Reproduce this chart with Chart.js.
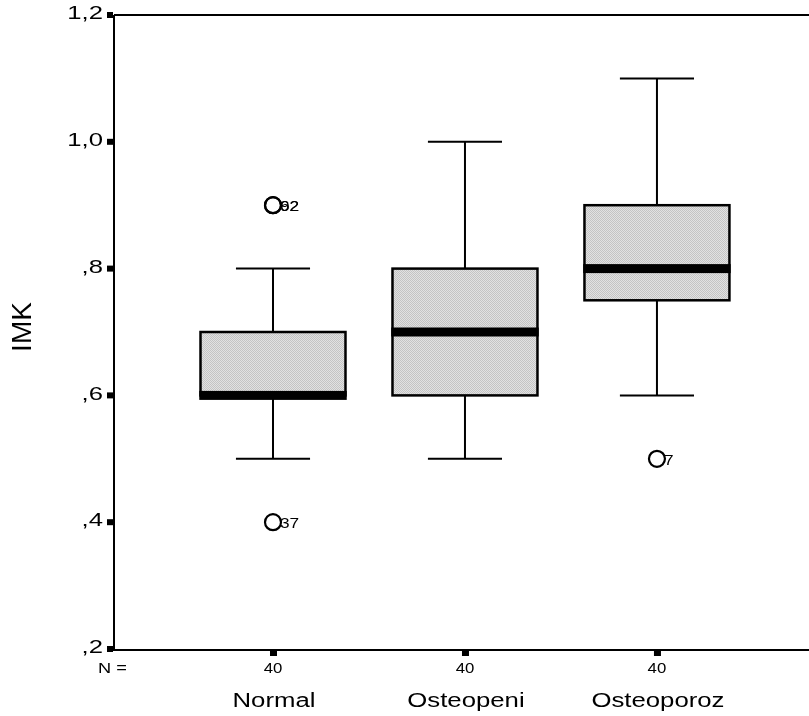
<!DOCTYPE html>
<html>
<head>
<meta charset="utf-8">
<script src="https://cdn.jsdelivr.net/npm/chart.js@4/dist/chart.umd.min.js"></script>
<style>
html,body{margin:0;padding:0;background:#fff;}
#wrap{width:809px;height:716px;}
</style>
</head>
<body>
<div id="wrap"><canvas id="c" width="809" height="716"></canvas></div>
<script>
// ---- data ----
const categories = ['Normal', 'Osteopeni', 'Osteoporoz'];
const groupCounts = [40, 40, 40];
const whiskerLow = [0.5, 0.5, 0.6];
const q1 = [0.6, 0.6, 0.75];
const median = [0.6, 0.7, 0.8];
const q3 = [0.7, 0.8, 0.9];
const whiskerHigh = [0.8, 1.0, 1.1];
const outlierGroup = [0, 0, 0, 2];
const outlierValue = [0.9, 0.9, 0.4, 0.5];
const outlierCase = ['62', '92', '37', '7'];
const yTickValues = [0.2, 0.4, 0.6, 0.8, 1.0, 1.2];
const yTickLabels = [',2', ',4', ',6', ',8', '1,0', '1,2'];
const yTitle = 'IMK';

// ---- helpers ----
const FONT = 'Arial, "Liberation Sans", sans-serif';
function sText(ctx, text, x, y, size, sx, align, baseline) {
  ctx.save();
  ctx.font = size + 'px ' + FONT;
  ctx.fillStyle = '#000';
  ctx.textAlign = align || 'left';
  ctx.textBaseline = baseline || 'alphabetic';
  ctx.translate(x, y);
  ctx.scale(sx, 1);
  ctx.fillText(text, 0, 0);
  ctx.restore();
}
function makePattern(ctx) {
  const p = document.createElement('canvas');
  p.width = 2; p.height = 2;
  const g = p.getContext('2d');
  g.fillStyle = '#e2e2e2'; g.fillRect(0, 0, 2, 2);
  g.fillStyle = '#c4c4c4'; g.fillRect(0, 0, 1, 1); g.fillRect(1, 1, 1, 1);
  return ctx.createPattern(p, 'repeat');
}

const BOX_HALF = 0.3776;   // in category units
const CAP_HALF = 0.193;

const boxPlugin = {
  id: 'boxPlugin',
  beforeDatasetsDraw(chart) {
    const ctx = chart.ctx, xs = chart.scales.x, ys = chart.scales.y;
    const pat = makePattern(ctx);
    ctx.save();
    for (let i = 0; i < categories.length; i++) {
      const cx = xs.getPixelForValue(i + 1);
      const l = xs.getPixelForValue(i + 1 - BOX_HALF);
      const r = xs.getPixelForValue(i + 1 + BOX_HALF);
      const cl = xs.getPixelForValue(i + 1 - CAP_HALF);
      const cr = xs.getPixelForValue(i + 1 + CAP_HALF);
      const yq1 = ys.getPixelForValue(q1[i]);
      const yq3 = ys.getPixelForValue(q3[i]);
      const ylo = ys.getPixelForValue(whiskerLow[i]);
      const yhi = ys.getPixelForValue(whiskerHigh[i]);
      const ymed = ys.getPixelForValue(median[i]);
      ctx.strokeStyle = '#000';
      ctx.lineWidth = 2;
      // whiskers
      ctx.beginPath();
      ctx.moveTo(cx, yq3); ctx.lineTo(cx, yhi);
      ctx.moveTo(cx, yq1); ctx.lineTo(cx, ylo);
      ctx.moveTo(cl, yhi); ctx.lineTo(cr, yhi);
      ctx.moveTo(cl, ylo); ctx.lineTo(cr, ylo);
      ctx.stroke();
      // box
      ctx.fillStyle = pat;
      ctx.fillRect(l, yq3, r - l, yq1 - yq3);
      ctx.lineWidth = 2.5;
      ctx.strokeRect(l, yq3, r - l, yq1 - yq3);
      // median band
      ctx.fillStyle = '#000';
      ctx.fillRect(l - 1.25, ymed - 4.5, r - l + 2.5, 9);
    }
    ctx.restore();
  },
  afterDraw(chart) {
    const ctx = chart.ctx, xs = chart.scales.x, ys = chart.scales.y;
    const a = chart.chartArea;
    ctx.save();
    // outlier case labels
    for (let k = 0; k < outlierValue.length; k++) {
      const px = xs.getPixelForValue(outlierGroup[k] + 1);
      const py = ys.getPixelForValue(outlierValue[k]);
      sText(ctx, outlierCase[k], px + 7, py + 6, 15, 1.15, 'left');
    }
    // frame
    ctx.strokeStyle = '#000';
    ctx.lineWidth = 2;
    ctx.beginPath();
    ctx.moveTo(a.right, a.top); ctx.lineTo(a.left - 1, a.top);
    ctx.moveTo(a.left - 1, a.top); ctx.lineTo(a.left - 1, a.bottom + 1);
    ctx.lineTo(a.right, a.bottom + 1);
    ctx.stroke();
    // y ticks + labels
    ctx.fillStyle = '#000';
    for (let t = 0; t < yTickValues.length; t++) {
      const py = ys.getPixelForValue(yTickValues[t]);
      ctx.fillRect(a.left - 8, py - 3, 6, 6);
      sText(ctx, yTickLabels[t], a.left - 12, py - 1, 19, 1.35, 'right', 'middle');
    }
    // x ticks, N labels, category labels
    for (let i = 0; i < categories.length; i++) {
      const px = xs.getPixelForValue(i + 1);
      ctx.fillRect(px - 3, a.bottom + 2, 7, 5);
      sText(ctx, String(groupCounts[i]), px, a.bottom + 24, 14, 1.2, 'center');
      sText(ctx, categories[i], px + 1, a.bottom + 58, 19.5, 1.32, 'center');
    }
    sText(ctx, 'N =', a.left - 17, a.bottom + 24, 14, 1.3, 'left');
    // y title
    ctx.save();
    ctx.translate(31, 327);
    ctx.rotate(-Math.PI / 2);
    ctx.font = '28px ' + FONT;
    ctx.textAlign = 'center';
    ctx.textBaseline = 'alphabetic';
    ctx.fillText(yTitle, 0, 0);
    ctx.restore();
    ctx.restore();
  }
};

const outlierPoints = outlierValue.map((v, k) => ({ x: outlierGroup[k] + 1, y: v }));

new Chart(document.getElementById('c'), {
  type: 'scatter',
  data: {
    datasets: [{
      data: outlierPoints,
      pointStyle: 'circle',
      pointRadius: 8,
      pointHoverRadius: 8,
      borderColor: '#000',
      borderWidth: 2.2,
      backgroundColor: 'rgba(255,255,255,0)',
      clip: false
    }]
  },
  options: {
    responsive: false,
    animation: false,
    events: [],
    layout: { autoPadding: false, padding: { left: 115, top: 15, right: 0, bottom: 67 } },
    plugins: { legend: { display: false }, tooltip: { enabled: false } },
    scales: {
      x: { type: 'linear', min: 0.177, max: 3.792, display: false },
      y: { type: 'linear', min: 0.2, max: 1.2, display: false }
    }
  },
  plugins: [boxPlugin]
});
</script>
</body>
</html>
